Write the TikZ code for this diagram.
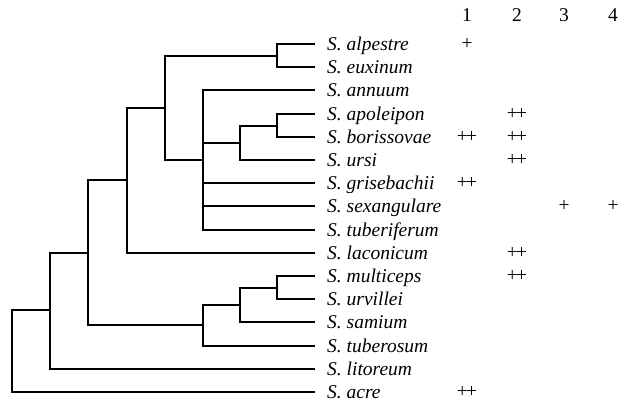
\documentclass[tikz,border=0pt]{standalone}
\usepackage{fontspec}
\setmainfont{Liberation Serif}
\usetikzlibrary{positioning,calc}
\newcommand{\twoplus}{+\kern-1.6pt+}

\begin{document}
\begin{tikzpicture}[
    x=1pt, y=-1pt,
    branch/.style={line width=2pt},
    taxon/.style={anchor=west, inner xsep=12pt, inner ysep=0pt, text height=13pt, text depth=0pt, font=\fontsize{19.5}{21}\selectfont\itshape},
    colhead/.style={inner sep=0pt, font=\fontsize{19.5}{21}\selectfont},
    score/.style={inner sep=0pt, font=\fontsize{19.5}{21}\selectfont}
]
    \useasboundingbox (0,0) rectangle (621,403);

    % Taxa
    \node[taxon] (alp) at (315,44)  {S. alpestre};
    \node[taxon] (eux) at (315,67)  {S. euxinum};
    \node[taxon] (ann) at (315,90)  {S. annuum};
    \node[taxon] (apo) at (315,114) {S. apoleipon};
    \node[taxon] (bor) at (315,137) {S. borissovae};
    \node[taxon] (urs) at (315,160) {S. ursi};
    \node[taxon] (gri) at (315,183) {S. grisebachii};
    \node[taxon] (sex) at (315,206) {S. sexangulare};
    \node[taxon] (tbf) at (315,230) {S. tuberiferum};
    \node[taxon] (lac) at (315,253) {S. laconicum};
    \node[taxon] (mul) at (315,276) {S. multiceps};
    \node[taxon] (urv) at (315,299) {S. urvillei};
    \node[taxon] (sam) at (315,322) {S. samium};
    \node[taxon] (tbs) at (315,346) {S. tuberosum};
    \node[taxon] (lit) at (315,369) {S. litoreum};
    \node[taxon] (acr) at (315,392) {S. acre};

    % Internal nodes
    \coordinate (ae)    at (277,56);
    \coordinate (ab)    at (277,126);
    \coordinate (abu)   at (240,143);
    \coordinate (big)   at (203,160);
    \coordinate (top)   at (165,108);
    \coordinate (upper) at (127,180);
    \coordinate (mu)    at (277,288);
    \coordinate (mus)   at (240,305);
    \coordinate (must)  at (203,325);
    \coordinate (mid)   at (88,253);
    \coordinate (lower) at (50,310);
    \coordinate (root)  at (12,351);

    % Branches
    \draw[branch] (ae) |- (alp.west);
    \draw[branch] (ae) |- (eux.west);
    \draw[branch] (ab) |- (apo.west);
    \draw[branch] (ab) |- (bor.west);
    \draw[branch] (abu) |- (ab);
    \draw[branch] (abu) |- (urs.west);
    \draw[branch] (big) |- (ann.west);
    \draw[branch] (big) |- (abu);
    \draw[branch] (big) |- (gri.west);
    \draw[branch] (big) |- (sex.west);
    \draw[branch] (big) |- (tbf.west);
    \draw[branch] (top) |- (ae);
    \draw[branch] (top) |- (big);
    \draw[branch] (upper) |- (top);
    \draw[branch] (upper) |- (lac.west);
    \draw[branch] (mu) |- (mul.west);
    \draw[branch] (mu) |- (urv.west);
    \draw[branch] (mus) |- (mu);
    \draw[branch] (mus) |- (sam.west);
    \draw[branch] (must) |- (mus);
    \draw[branch] (must) |- (tbs.west);
    \draw[branch] (mid) |- (upper);
    \draw[branch] (mid) |- (must);
    \draw[branch] (lower) |- (mid);
    \draw[branch] (lower) |- (lit.west);
    \draw[branch] (root) |- (lower);
    \draw[branch] (root) |- (acr.west);

    % Columns
    \node[colhead] (h1) at (467,15) {1};
    \node[colhead] (h2) at (517,15) {2};
    \node[colhead] (h3) at (564,15) {3};
    \node[colhead] (h4) at (613,15) {4};

    % Scores
    \node[score] at (h1 |- alp.west) {+};
    \node[score] at (h2 |- apo.west) {\twoplus};
    \node[score] at (h1 |- bor.west) {\twoplus};
    \node[score] at (h2 |- bor.west) {\twoplus};
    \node[score] at (h2 |- urs.west) {\twoplus};
    \node[score] at (h1 |- gri.west) {\twoplus};
    \node[score] at (h3 |- sex.west) {+};
    \node[score] at (h4 |- sex.west) {+};
    \node[score] at (h2 |- lac.west) {\twoplus};
    \node[score] at (h2 |- mul.west) {\twoplus};
    \node[score] at (h1 |- acr.west) {\twoplus};
\end{tikzpicture}
\end{document}
